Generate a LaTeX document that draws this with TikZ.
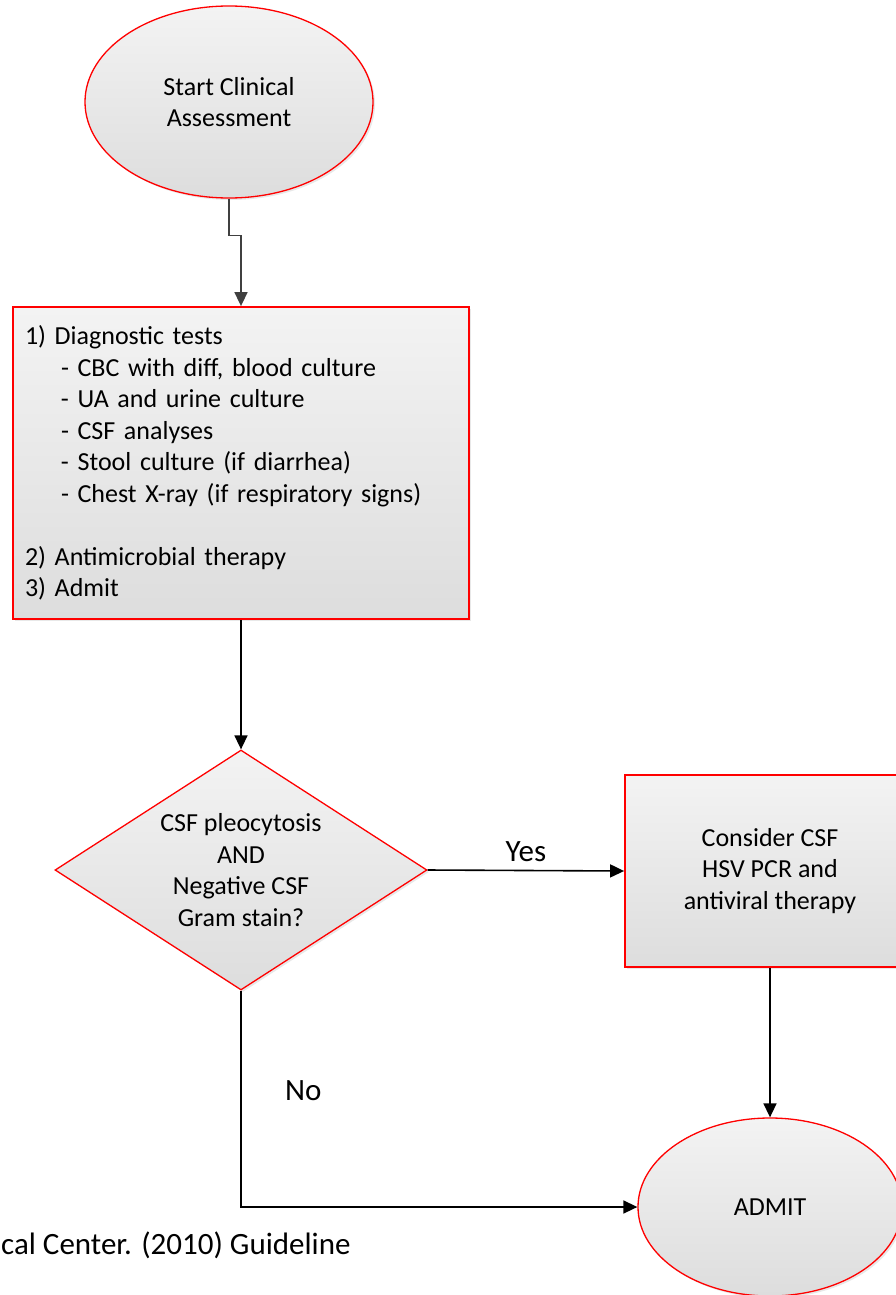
\documentclass[tikz,border=0pt]{standalone}
\usepackage{fontspec}
\setmainfont{Carlito}
\usepackage{tikz}
\usetikzlibrary{positioning, arrows.meta, calc, shapes.geometric, shadows}
\definecolor{flowred}{HTML}{FF0000}
\definecolor{boxtop}{HTML}{F3F3F3}
\definecolor{boxbottom}{HTML}{DDDDDD}
\definecolor{darkline}{HTML}{404040}

\begin{document}
\begin{tikzpicture}[x=1pt, y=-1pt,
    every node/.style={font=\fontsize{26}{31.5}\selectfont},
    shape base/.style={draw=flowred, line width=1.3pt, top color=boxtop, bottom color=boxbottom,
      drop shadow={opacity=0.18, shadow xshift=2pt, shadow yshift=-2pt}, inner sep=0pt, align=center},
    terminal/.style={shape base, ellipse},
    process/.style={shape base, rectangle, line width=1.8pt},
    decision/.style={shape base, diamond, aspect=1.55},
    flow/.style={-{Triangle[length=14pt, width=13pt]}, line width=1.6pt, black},
    label text/.style={font=\fontsize{31}{36}\selectfont}]
  \useasboundingbox (0,0) rectangle (895,1295);

  % nodes
  \node[terminal, minimum width=288pt, minimum height=192pt] (start) at (229,102)
    {Start Clinical\\Assessment};
  \node[process, minimum width=456pt, minimum height=312pt, text width=432pt, align=left] (tests) at (241,463) {%
    1) Diagnostic tests\\
    \hspace*{36pt}- CBC with diff, blood culture\\
    \hspace*{36pt}- UA and urine culture\\
    \hspace*{36pt}- CSF analyses\\
    \hspace*{36pt}- Stool culture (if diarrhea)\\
    \hspace*{36pt}- Chest X-ray (if respiratory signs)\\[31.5pt]
    2) Antimicrobial therapy\\
    3) Admit};
  \node[decision, minimum width=372pt, minimum height=240pt] (check) at (241,870)
    {CSF pleocytosis\\AND\\Negative CSF\\Gram stain?};
  \node[process, minimum width=290pt, minimum height=192pt] (hsv) at (770,871)
    {Consider CSF\\HSV PCR and\\antiviral therapy};
  \node[terminal, minimum width=264pt, minimum height=178pt] (admit) at (770,1207) {ADMIT};
  \node[label text, anchor=west, inner sep=0pt] (source) at (1,1245) {cal Center. (2010) Guideline};

  % connectors
  \draw[flow, darkline] (start.south) -- ++(0,37) -| (tests.north);
  \draw[flow] (tests.south) -- (check.north);
  \draw[flow] (check.east) -- node[label text, above=5pt] {Yes} (hsv.west);
  \draw[flow] (hsv.south) -- (admit.north);
  \draw[flow] (check.south) |- node[label text, pos=0.23, right=40pt] {No} (admit.west);
\end{tikzpicture}
\end{document}
